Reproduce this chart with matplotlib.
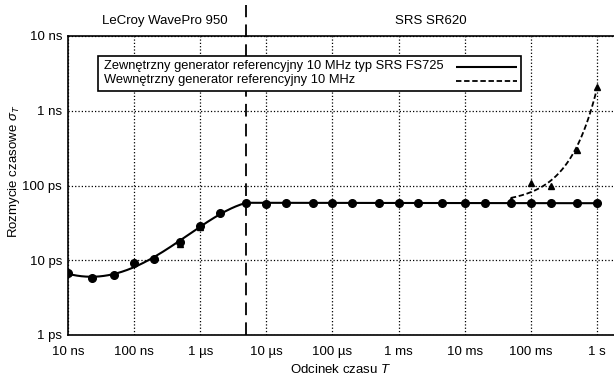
import numpy as np
import matplotlib
matplotlib.use('Agg')
import matplotlib.pyplot as plt
import matplotlib.transforms as mtransforms
from matplotlib.patches import Rectangle
from matplotlib.lines import Line2D

plt.rcParams['font.family'] = ['Liberation Sans', 'DejaVu Sans']
plt.rcParams['font.size'] = 9.5
plt.rcParams['mathtext.fontset'] = 'custom'
plt.rcParams['mathtext.rm'] = 'Liberation Sans'
plt.rcParams['mathtext.it'] = 'Liberation Sans:italic'

# dane: generator zewnętrzny (kółka)
ext_T = [1e-8, 2.3e-8, 5e-8, 1e-7, 2e-7, 5e-7, 1e-6, 2e-6, 5e-6,
         1e-5, 2e-5, 5e-5, 1e-4, 2e-4, 5e-4, 1e-3, 2e-3, 4.5e-3,
         1e-2, 2e-2, 5e-2, 0.1, 0.2, 0.5, 1.0]
ext_sigma = [6.7, 5.8, 6.3, 9.3, 10.4, 17.4, 28.8, 42.5, 58,
             57, 58, 59, 58, 58, 58.5, 58, 57.5, 58,
             57.5, 57.5, 58, 58, 58.5, 57.5, 58.5]  # ps

# dane: generator wewnętrzny (trójkąty)
int_T = [5e-7, 1e-6, 5e-2, 0.1, 0.2, 0.5, 1.0]
int_sigma = [16.5, 27.5, 63, 107, 100, 298, 2060]  # ps

x_ticks = [1e-8, 1e-7, 1e-6, 1e-5, 1e-4, 1e-3, 1e-2, 1e-1, 1]
x_labels = ['10 ns', '100 ns', '1 µs', '10 µs', '100 µs', '1 ms', '10 ms', '100 ms', '1 s']
y_ticks = [1e-12, 1e-11, 1e-10, 1e-9, 1e-8]
y_labels = ['1 ps', '10 ps', '100 ps', '1 ns', '10 ns']

labels = ['Zewnętrzny generator referencyjny 10 MHz typ SRS FS725',
          'Wewnętrzny generator referencyjny 10 MHz']

split_T = 5e-6

ext_T = np.array(ext_T)
ext_s = np.array(ext_sigma) * 1e-12
int_T = np.array(int_T)
int_s = np.array(int_sigma) * 1e-12

W, H = 614, 377
fig = plt.figure(figsize=(W / 100, H / 100), dpi=100)
ax = fig.add_axes([68 / W, 1 - 335 / H, 1 - 68 / W, 299 / H])
ax.set_xscale('log')
ax.set_yscale('log')
ax.set_xlim(1e-8, 1.82)
ax.set_ylim(1e-12, 1e-8)

solid = (0, ())
dashed = (0, (3, 1.5))

# krzywa dopasowania (zewnętrzny): wielomian w skali log-log do 5 µs, potem stała
m = ext_T <= split_T
p = np.polyfit(np.log10(ext_T[m]), np.log10(ext_s[m]), 4)
xf1 = np.logspace(-8, np.log10(split_T), 200)
yf1 = 10 ** np.polyval(p, np.log10(xf1))
flat = ext_s[~m].mean()
xf = np.concatenate([xf1, [1.0]])
yf = np.concatenate([yf1, [flat]])
ax.plot(xf, yf, color='black', lw=1.5, ls=solid)

# krzywa dopasowania (wewnętrzny): wykładnicza od 50 ms
mi = int_T >= 5e-2
q = np.polyfit(int_T[mi], np.log10(int_s[mi]), 1)
xd = np.linspace(5e-2, 1.0, 200)
yd = 10 ** np.polyval(q, xd)
ax.plot(xd, yd, color='black', lw=1.3, ls=dashed)

ax.plot(int_T, int_s, ls='none', marker='^', color='black', ms=5)
ax.plot(ext_T, ext_s, ls='none', marker='o', color='black', ms=5.5)

ax.set_xticks(x_ticks)
ax.set_xticklabels(x_labels)
ax.set_yticks(y_ticks)
ax.set_yticklabels(y_labels)
ax.minorticks_off()
ax.tick_params(axis='y', length=0, pad=4.3)
ax.tick_params(axis='x', length=0, pad=8)
ax.grid(True, ls=':', color='black', lw=0.9)
ax.spines['right'].set_visible(False)
for s in ['left', 'bottom', 'top']:
    ax.spines[s].set_linewidth(1.2)

ax.set_xlabel('Odcinek czasu $T$', labelpad=3.5)
ax.set_ylabel('Rozmycie czasowe $\\sigma_T$')
ax.yaxis.set_label_coords(-0.085, 0.547)

# linia podziału przyrządów
ax.axvline(split_T, ymin=0, ymax=1.105, color='black', lw=1.3, ls=(0, (7, 4)), clip_on=False)
trans = mtransforms.blended_transform_factory(ax.transData, fig.transFigure)
ax.text(2.95e-7, 0.945, 'LeCroy WavePro 950', transform=trans, ha='center', va='center')
ax.text(3.1e-3, 0.945, 'SRS SR620', transform=trans, ha='center', va='center')

# legenda rysowana ręcznie (opis z lewej, linia z prawej)
def fx(px):
    return px / W

def fy(py):
    return 1 - py / H

fig.add_artist(Rectangle((fx(98), fy(91)), fx(521) - fx(98), fy(56) - fy(91),
                         transform=fig.transFigure, facecolor='white',
                         edgecolor='black', lw=1.2, zorder=5))
for i, (lab, st) in enumerate(zip(labels, [solid, dashed])):
    yy = 66.5 + i * 14
    fig.text(fx(104), fy(yy), lab, ha='left', va='center', fontsize=9.3, zorder=6)
    fig.add_artist(Line2D([fx(456), fx(517)], [fy(yy), fy(yy)], transform=fig.transFigure,
                          color='black', lw=1.5 if i == 0 else 1.3, ls=st, zorder=6))

fig.savefig('out.png', dpi=100)
